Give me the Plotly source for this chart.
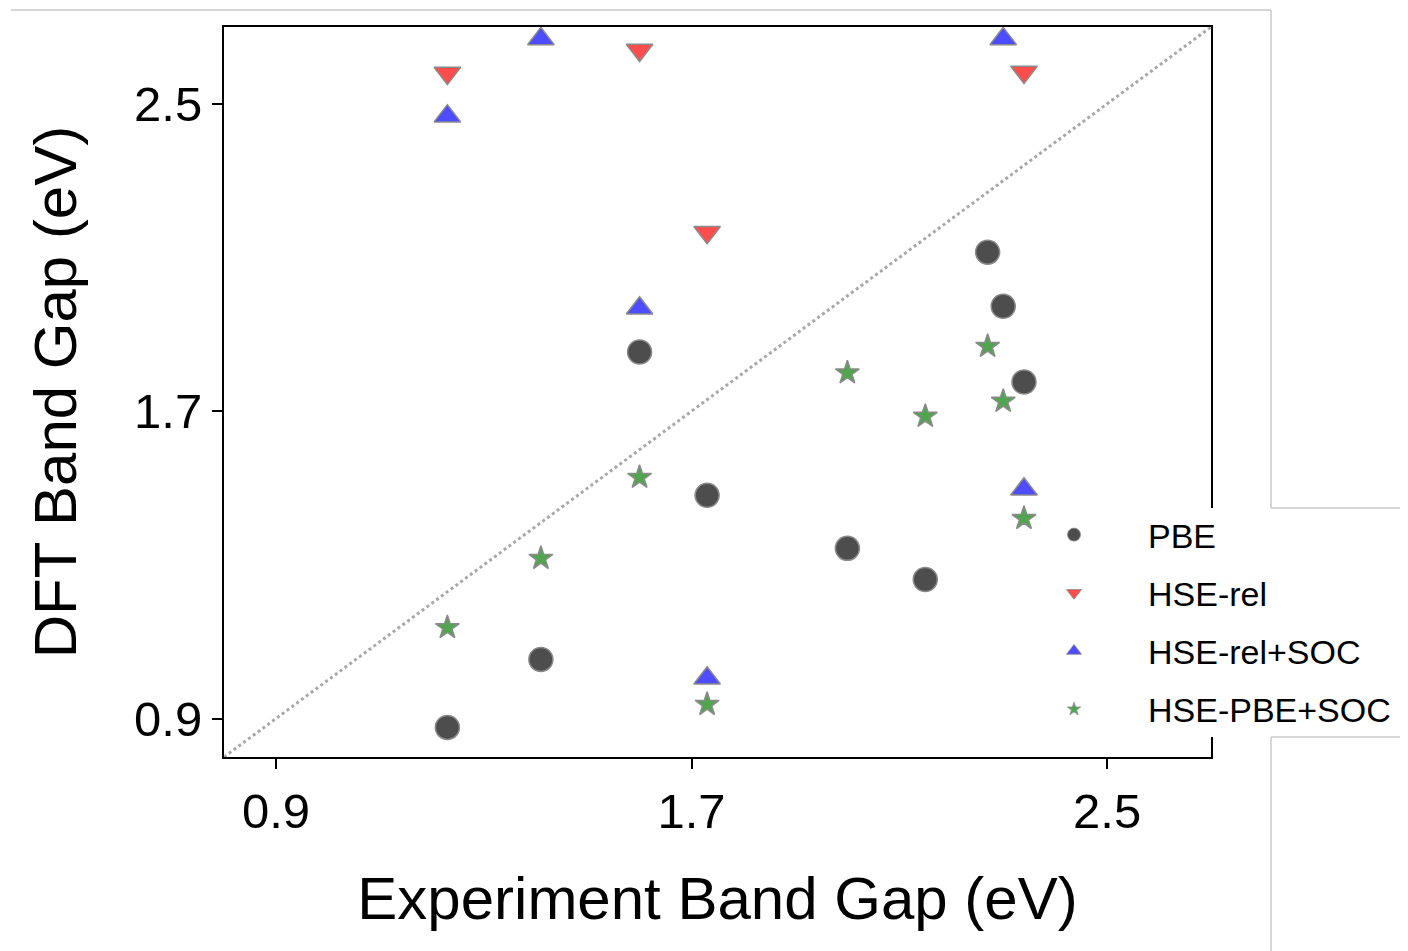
import plotly.graph_objects as go

# ---- data ----
x_exp_pbe = [1.23, 1.41, 1.60, 1.73, 2.00, 2.15, 2.27, 2.30, 2.34]
y_pbe = [0.877, 1.054, 1.854, 1.481, 1.343, 1.262, 2.114, 1.973, 1.776]

x_exp_hse_rel = [1.23, 1.60, 1.73, 2.34]
y_hse_rel = [2.58, 2.64, 2.166, 2.583]

x_exp_hse_rel_soc = [1.23, 1.41, 1.60, 1.73, 2.30, 2.34]
y_hse_rel_soc = [2.468, 2.669, 1.968, 1.005, 2.669, 1.497]

x_exp_hse_pbe_soc = [1.23, 1.41, 1.60, 1.73, 2.00, 2.15, 2.27, 2.30, 2.34]
y_hse_pbe_soc = [1.137, 1.317, 1.528, 0.937, 1.800, 1.687, 1.869, 1.726, 1.421]

diag = [0.8, 2.7]
tick_vals = [0.9, 1.7, 2.5]
tick_text = ["0.9", "1.7", "2.5"]

series_names = ["PBE", "HSE-rel", "HSE-rel+SOC", "HSE-PBE+SOC"]

# ---- layout geometry (screen pixels; page body has an 8px margin) ----
OFF = 8
W, H = 1400, 943
L, R, T, B = 224 - OFF, 1211 - OFF, 27 - OFF, 757 - OFF


def px(p):
    return (p - OFF - L) / (R - L)


def py(p):
    return (B - (p - OFF)) / (B - T)


FONT = "Liberation Sans, Arial, sans-serif"
EDGE = "#8a8a8a"

fig = go.Figure()

fig.add_trace(go.Scatter(
    x=diag, y=diag, mode="lines", showlegend=False,
    line=dict(color="#a8a8a8", width=3, dash="dot"), hoverinfo="skip"))

specs = [
    (x_exp_pbe, y_pbe, "circle", 24, "#4d4d4d", 13),
    (x_exp_hse_rel, y_hse_rel, "triangle-down", 23, "#ff4d4d", 13),
    (x_exp_hse_rel_soc, y_hse_rel_soc, "triangle-up", 23, "#4d4dff", 13),
    (x_exp_hse_pbe_soc, y_hse_pbe_soc, "star", 18, "#4fa64f", 10),
]

for (xs, ys, sym, size, col, lsize), name in zip(specs, series_names):
    fig.add_trace(go.Scatter(
        x=xs, y=ys, mode="markers", name=name, showlegend=False,
        marker=dict(symbol=sym, size=size, color=col,
                    line=dict(color=EDGE, width=1.5))))

for (xs, ys, sym, size, col, lsize), name in zip(specs, series_names):
    fig.add_trace(go.Scatter(
        x=[None], y=[None], mode="markers", name=name, legendgroup=name,
        marker=dict(symbol=sym, size=lsize, color=col,
                    line=dict(color=EDGE, width=0.8))))

shapes = []
# white box behind legend (covers right spine)
shapes.append(dict(type="rect", xref="paper", yref="paper", layer="above",
                   x0=px(1045), x1=px(1420), y0=py(737), y1=py(508),
                   fillcolor="white", line=dict(width=0)))
frame = dict(color="#c8c8c8", width=1.5)
for (x0, y0, x1, y1) in [(11, 10, 1271, 10), (1271, 10, 1271, 508),
                         (1271, 737, 1271, 960), (1271, 508, 1408, 508),
                         (1271, 737, 1408, 737)]:
    shapes.append(dict(type="line", xref="paper", yref="paper", layer="above",
                       x0=px(x0), x1=px(x1), y0=py(y0), y1=py(y1), line=frame))

axis_common = dict(
    range=[0.8, 2.7], showgrid=False, zeroline=False,
    showline=True, mirror=True, linecolor="black", linewidth=2,
    ticks="outside", ticklen=10, tickwidth=2, tickcolor="black",
    tickvals=tick_vals, ticktext=tick_text,
    tickfont=dict(family=FONT, size=49, color="black"),
)

fig.update_layout(
    width=W, height=H,
    margin=dict(l=L, r=W - R, t=T, b=H - B, autoexpand=False),
    paper_bgcolor="white", plot_bgcolor="white",
    font=dict(family=FONT, color="black"),
    xaxis=dict(axis_common, title=dict(text="Experiment Band Gap (eV)",
                                       font=dict(family=FONT, size=60), standoff=40)),
    yaxis=dict(axis_common, title=dict(text="DFT Band Gap (eV)",
                                       font=dict(family=FONT, size=60), standoff=38)),
    legend=dict(x=px(1000), y=py(506), xanchor="left", yanchor="top",
                bgcolor="rgba(0,0,0,0)", borderwidth=0, itemwidth=138,
                tracegroupgap=11,
                font=dict(family=FONT, size=34, color="black")),
    shapes=shapes,
)

fig.write_html("out.html")
